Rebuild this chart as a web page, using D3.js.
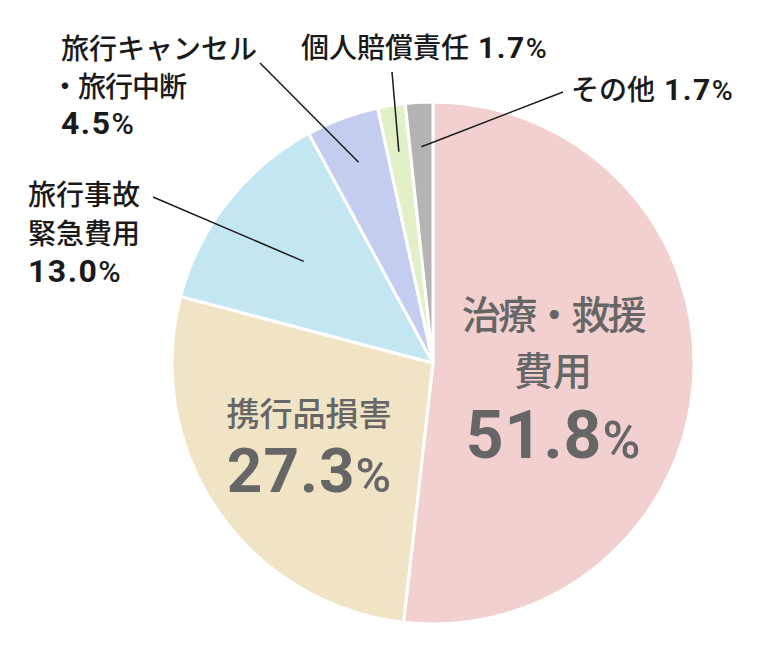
<!DOCTYPE html>
<html>
<head>
<meta charset="utf-8">
<script src="https://cdn.jsdelivr.net/npm/d3@7"></script>
<style>
  body { margin: 0; background: #fff; }
  svg { display: block; }
</style>
</head>
<body>
<script>
// data
var categories = ["治療・救援費用", "携行品損害", "旅行事故緊急費用", "旅行キャンセル・旅行中断", "個人賠償責任", "その他"];
var values = [51.8, 27.3, 13.0, 4.5, 1.7, 1.7];
var colors = ["#f2d0cf", "#f1e4c4", "#c2e6f2", "#c4cdf0", "#e2f0c8", "#b4b4b4"];

var jpFont = "'Noto Sans CJK JP', sans-serif";
var numFont = "Roboto, 'Noto Sans', sans-serif";

var width = 781, height = 656;
var cx = 433, cy = 363, r = 261;

var svg = d3.select("body").append("svg")
  .attr("width", width)
  .attr("height", height);

var pie = d3.pie().sort(null).value(function(d) { return d; });
var arcs = pie(values);

var arc = d3.arc().innerRadius(0).outerRadius(r);

var g = svg.append("g").attr("transform", "translate(" + cx + "," + cy + ")");

g.selectAll("path.slice")
  .data(arcs)
  .enter().append("path")
  .attr("class", "slice")
  .attr("d", arc)
  .attr("fill", function(d, i) { return colors[i]; })
  .attr("stroke", "#fff")
  .attr("stroke-width", 3)
  .attr("stroke-linejoin", "round");

// value like "51.8%", % a bit lighter
function pct(sel, v, size, pctScale, color, spacing) {
  sel.append("tspan").attr("font-weight", 700).attr("font-size", size)
    .attr("letter-spacing", spacing).attr("fill", color).text(v.toFixed(1));
  sel.append("tspan").attr("font-weight", 500).attr("font-size", size * pctScale)
    .attr("fill", color).text("%");
}

// inner labels (big slices)
function inner(lines, v, x, ys, jpSize, numSize, numY) {
  lines.forEach(function(l, k) {
    svg.append("text")
      .attr("x", x).attr("y", ys[k])
      .attr("text-anchor", "middle")
      .attr("font-family", jpFont)
      .attr("font-size", jpSize)
      .attr("font-weight", 500)
      .attr("letter-spacing", l.indexOf("・") >= 0 ? -2.5 : 0)
      .attr("fill", "#666")
      .text(l);
  });
  var t = svg.append("text")
    .attr("x", x).attr("y", numY)
    .attr("text-anchor", "middle")
    .attr("font-family", numFont);
  pct(t, v, numSize, 0.78, "#666", 1);
}

inner(["治療・救援", "費用"], values[0], 553, [329, 385], 39, 66, 458);
inner(["携行品損害"], values[1], 309, [426], 33, 62, 492);

// outer labels with leader lines
var outer = [
  { i: 2, lines: ["旅行事故", "緊急費用"], x: 28, y: 205, lh: 39, inline: false, from: [153, 197], rf: 0.63 },
  { i: 3, lines: ["旅行キャンセル", "・旅行中断"], x: 61, y: 59, lh: 38, inline: false, from: [260, 63], rf: 0.82 },
  { i: 4, lines: ["個人賠償責任"], x: 301, y: 58, lh: 38, inline: true, from: [392, 72], rf: 0.82 },
  { i: 5, lines: ["その他"], x: 571, y: 100, lh: 38, inline: true, from: [563, 92], rf: 0.83 }
];

outer.forEach(function(o) {
  var a = arcs[o.i];
  var mid = (a.startAngle + a.endAngle) / 2;
  var rr = r * o.rf;
  var px = cx + Math.sin(mid) * rr, py = cy - Math.cos(mid) * rr;
  svg.append("line")
    .attr("x1", o.from[0]).attr("y1", o.from[1])
    .attr("x2", px).attr("y2", py)
    .attr("stroke", "#1a1a1a")
    .attr("stroke-width", 1.5);

  o.lines.forEach(function(l, k) {
    var lead = l.charAt(0) == "・";
    var t = svg.append("text")
      .attr("x", lead ? o.x - 10 : o.x).attr("y", o.y + k * o.lh)
      .attr("font-family", jpFont)
      .attr("font-size", 28)
      .attr("font-weight", 500)
      .attr("fill", "#1a1a1a");
    t.append("tspan").attr("letter-spacing", lead ? -1 : 0).text(l);
    if (o.inline) {
      var n = t.append("tspan").attr("font-family", numFont).attr("dx", 9);
      pct(n, values[o.i], 30, 0.95, "#1a1a1a", 1.5);
    }
  });
  if (!o.inline) {
    var t2 = svg.append("text")
      .attr("x", o.x).attr("y", o.y + o.lines.length * o.lh - 1)
      .attr("font-family", numFont);
    pct(t2, values[o.i], 32, 0.95, "#1a1a1a", 1.5);
  }
});
</script>
</body>
</html>
